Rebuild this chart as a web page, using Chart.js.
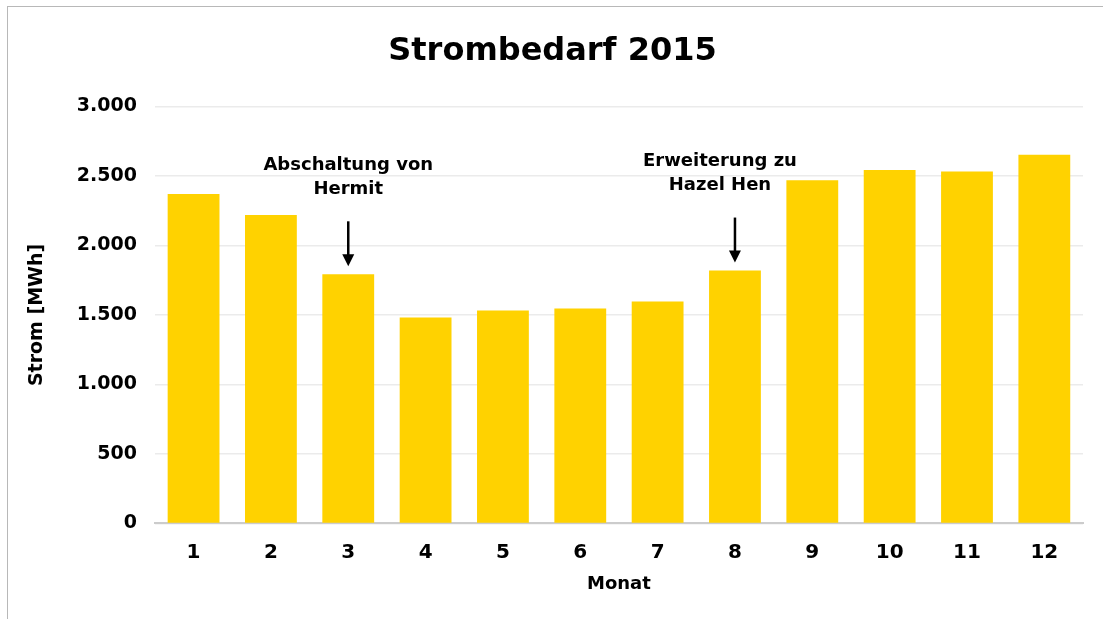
<!DOCTYPE html>
<html>
<head>
<meta charset="utf-8">
<script src="https://cdn.jsdelivr.net/npm/chart.js@4.4.1/dist/chart.umd.min.js"></script>
<style>
  html, body { margin: 0; padding: 0; background: #fff; overflow: hidden; }
  #wrap { position: absolute; left: 0; top: 0; width: 1103px; height: 619px; }
  #frame { position: absolute; left: 7px; top: 6px; width: 1200px; height: 700px; border: 1px solid #b8b8b8; pointer-events: none; }
</style>
</head>
<body>
<div id="wrap"><canvas id="chart" width="1103" height="619"></canvas></div>
<div id="frame"></div>
<script>
const months = ['1', '2', '3', '4', '5', '6', '7', '8', '9', '10', '11', '12'];
const stromMWh = [2370, 2218, 1792, 1481, 1532, 1546, 1597, 1819, 2469, 2543, 2531, 2652];
const noteIndex = [2, 7];
const noteLines = [['Abschaltung von', 'Hermit'], ['Erweiterung zu', 'Hazel Hen']];

const fontFamily = '"DejaVu Sans", sans-serif';
// text of the second note sits a bit left of its arrow
const noteTextShift = [0, -15];

function formatThousands(value) {
    return String(value).replace(/\B(?=(\d{3})+(?!\d))/g, '.');
}

const notesPlugin = {
    id: 'notes',
    afterDatasetsDraw(chart) {
        const ctx = chart.ctx;
        const x = chart.scales.x;
        const y = chart.scales.y;
        ctx.save();
        ctx.fillStyle = '#000';
        ctx.strokeStyle = '#000';
        ctx.font = 'bold 18px ' + fontFamily;
        ctx.textAlign = 'center';
        ctx.textBaseline = 'middle';
        noteIndex.forEach((idx, i) => {
            const cx = x.getPixelForValue(idx);
            const top = y.getPixelForValue(stromMWh[idx]);
            const arrowEnd = top - 8;
            const arrowStart = arrowEnd - 45;
            const tx = cx + noteTextShift[i];
            ctx.fillText(noteLines[i][0], tx, arrowStart - 56);
            ctx.fillText(noteLines[i][1], tx, arrowStart - 32);
            ctx.lineWidth = 2.5;
            ctx.beginPath();
            ctx.moveTo(cx, arrowStart);
            ctx.lineTo(cx, arrowEnd - 10);
            ctx.stroke();
            ctx.beginPath();
            ctx.moveTo(cx - 6, arrowEnd - 12);
            ctx.lineTo(cx + 6, arrowEnd - 12);
            ctx.lineTo(cx, arrowEnd);
            ctx.closePath();
            ctx.fill();
        });
        ctx.restore();
    }
};

new Chart(document.getElementById('chart').getContext('2d'), {
    type: 'bar',
    data: {
        labels: months,
        datasets: [{
            label: 'Strom [MWh]',
            data: stromMWh,
            backgroundColor: '#FFD200',
            borderWidth: 0,
            categoryPercentage: 1,
            barPercentage: 0.67
        }]
    },
    options: {
        responsive: false,
        animation: false,
        layout: { padding: { left: 22, right: 20, top: 20, bottom: 20 } },
        plugins: {
            legend: { display: false },
            tooltip: { enabled: false },
            title: {
                display: true,
                text: 'Strombedarf 2015',
                color: '#000',
                font: { family: fontFamily, size: 32, weight: 'bold' },
                padding: { top: 12, bottom: 36 }
            }
        },
        scales: {
            x: {
                grid: { display: false },
                border: { display: true, color: '#cccccc', width: 2 },
                ticks: {
                    color: '#000',
                    padding: 9,
                    font: { family: fontFamily, size: 20, weight: 'bold' }
                },
                title: {
                    display: true,
                    text: 'Monat',
                    color: '#000',
                    padding: { top: 0 },
                    font: { family: fontFamily, size: 18, weight: 'bold' }
                }
            },
            y: {
                min: 0,
                max: 3000,
                ticks: {
                    stepSize: 500,
                    color: '#000',
                    padding: 18,
                    font: { family: fontFamily, size: 19, weight: 'bold' },
                    callback: value => formatThousands(value)
                },
                grid: { color: '#ebebeb', lineWidth: 1.5, drawTicks: false },
                border: { display: false },
                title: {
                    display: true,
                    text: 'Strom [MWh]',
                    color: '#000',
                    padding: { bottom: 10 },
                    font: { family: fontFamily, size: 19, weight: 'bold' }
                }
            }
        }
    },
    plugins: [notesPlugin]
});
</script>
</body>
</html>
